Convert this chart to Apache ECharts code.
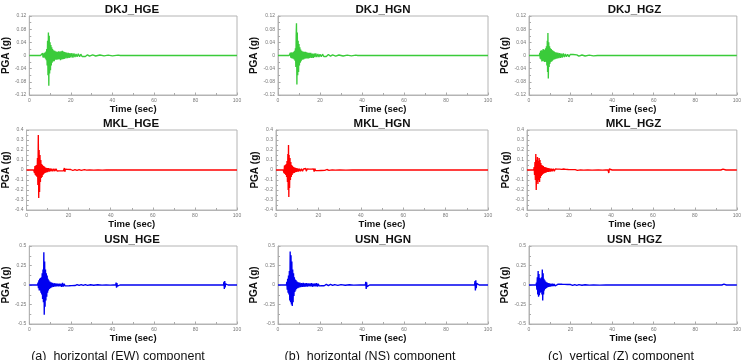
<!DOCTYPE html>
<html><head><meta charset="utf-8">
<script src="https://cdn.jsdelivr.net/npm/echarts@6/dist/echarts.min.js"></script>
<style>html,body{margin:0;padding:0;background:#fff}#c{width:744px;height:360px}</style>
</head><body><div id="c"></div>
<script>
// ---- data ----
const titles = [
  ['DKJ_HGE','DKJ_HGN','DKJ_HGZ'],
  ['MKL_HGE','MKL_HGN','MKL_HGZ'],
  ['USN_HGE','USN_HGN','USN_HGZ']
];
const captions = ['(a)  horizontal (EW) component','(b)  horizontal (NS) component','(c)  vertical (Z) component'];
const rowColors = ['#3acb3a','#ff0000','#0000f0'];
const rowMax = [0.12, 0.4, 0.5];
const rowStep = [0.04, 0.1, 0.25];
const xTicks = [0, 20, 40, 60, 80, 100];

const dkjE = [[0,0],[5.4,0],[5.6,0.004],[5.8,-0.005],[6.0,0.006],[6.2,-0.004],[6.4,0.007],[6.6,-0.006],[6.8,0.005],[7.0,-0.007],[7.2,0.008],[7.4,-0.006],[7.6,0.009],[7.8,-0.01],[8.0,0.012],[8.2,-0.014],[8.4,0.02],[8.6,-0.03],[8.8,0.045],[9.0,-0.06],[9.2,0.07],[9.4,-0.092],[9.6,0.06],[9.8,-0.055],[10.0,0.04],[10.2,-0.045],[10.4,0.032],[10.6,-0.03],[10.8,0.025],[11.0,-0.022],[11.2,0.02],[11.4,-0.018],[11.7,0.016],[12.0,-0.017],[12.3,0.014],[12.6,-0.013],[12.9,0.012],[13.2,-0.013],[13.5,0.011],[13.8,-0.012],[14.1,0.013],[14.4,-0.011],[14.7,0.012],[15.0,-0.014],[15.3,0.013],[15.6,-0.012],[15.9,0.014],[16.2,-0.011],[16.5,0.012],[16.8,-0.01],[17.2,0.01],[17.6,-0.009],[18.0,0.009],[18.4,-0.008],[18.8,0.008],[19.2,-0.007],[19.6,0.007],[20.0,-0.006],[20.5,0.007],[21.0,-0.006],[21.5,0.006],[22.0,-0.005],[22.5,0.005],[23.0,-0.004],[23.6,0.005],[24.2,-0.004],[24.8,0.004],[25.4,-0.003],[26.0,0.003],[27.0,-0.003],[28.0,0.002],[29.0,-0.002],[30.5,0.002],[32,-0.0015],[34,0.0015],[36,-0.001],[38,0.001],[40,-0.001],[42.8,0.001],[43.2,-0.002],[43.5,0.002],[43.8,0],[45,0],[95.5,0],[96.6,0],[96.8,0.005],[97.0,-0.006],[97.2,0.004],[97.4,0],[98.5,0],[100,0]];
const dkjN = [[0,0],[5.3,0],[5.5,0.005],[5.7,-0.006],[5.9,0.008],[6.1,-0.007],[6.3,0.009],[6.5,-0.008],[6.7,0.01],[6.9,-0.009],[7.1,0.008],[7.3,-0.01],[7.5,0.011],[7.7,-0.012],[7.9,0.014],[8.1,-0.016],[8.3,0.022],[8.5,-0.035],[8.65,0.06],[8.8,0.098],[9.0,-0.088],[9.2,0.07],[9.4,-0.06],[9.6,0.045],[9.8,-0.05],[10.0,0.035],[10.2,-0.03],[10.4,0.025],[10.6,-0.022],[10.8,0.018],[11.0,-0.017],[11.3,0.014],[11.6,-0.013],[11.9,0.012],[12.2,-0.012],[12.5,0.011],[12.8,-0.01],[13.1,0.011],[13.4,-0.009],[13.7,0.01],[14.0,-0.009],[14.3,0.008],[14.6,-0.009],[14.9,0.008],[15.2,-0.007],[15.6,0.008],[16.0,-0.007],[16.4,0.006],[16.8,-0.007],[17.2,0.006],[17.6,-0.005],[18.0,0.006],[18.5,-0.005],[19.0,0.005],[19.5,-0.005],[20.0,0.004],[20.6,-0.004],[21.2,0.004],[21.8,-0.003],[22.4,0.003],[23.0,-0.003],[24,0.003],[25,-0.002],[26,0.002],[27.5,-0.002],[29,0.0015],[31,-0.0015],[33,0.001],[35,-0.001],[37,0.001],[38,0],[42.8,0],[43.8,0],[44,0.002],[44.3,-0.002],[44.6,0],[45.6,0],[95.3,0],[96.3,0],[96.5,0.003],[96.7,-0.003],[96.9,0],[98,0],[100,0]];
const dkjZ = [[0,0],[5.0,0],[5.2,0.008],[5.4,-0.01],[5.6,0.014],[5.8,-0.012],[6.0,0.016],[6.2,-0.018],[6.4,0.015],[6.6,-0.017],[6.8,0.02],[7.0,-0.016],[7.2,0.018],[7.4,-0.02],[7.6,0.017],[7.8,-0.018],[8.0,0.022],[8.2,-0.02],[8.4,0.028],[8.6,-0.03],[8.8,0.045],[8.95,-0.05],[9.1,0.068],[9.3,-0.07],[9.5,0.04],[9.7,-0.035],[9.9,0.028],[10.1,-0.025],[10.3,0.022],[10.5,-0.02],[10.7,0.02],[10.9,-0.018],[11.1,0.017],[11.3,-0.016],[11.6,0.014],[11.9,-0.013],[12.2,0.012],[12.5,-0.011],[12.8,0.01],[13.1,-0.01],[13.4,0.009],[13.7,-0.009],[14.0,0.008],[14.4,-0.008],[14.8,0.007],[15.2,-0.007],[15.6,0.006],[16.0,-0.006],[16.5,0.006],[17.0,-0.005],[17.5,0.005],[18.0,-0.004],[18.6,0.004],[19.2,-0.004],[19.8,0.003],[20.5,-0.003],[21.2,0.003],[22,-0.002],[23,0.002],[24,-0.002],[25.5,0.0015],[27,-0.0015],[29,0.001],[31,-0.001],[33,0],[43.5,0],[43.8,0.001],[44.1,-0.001],[44.4,0],[45.4,0],[93.6,0],[94.6,0],[94.8,0.002],[95,-0.002],[95.2,0],[97.5,0],[97.7,0.002],[97.9,-0.002],[98.1,0],[99,0],[100,0]];

const mklE = [[0,0],[3.4,0],[3.6,0.02],[3.8,-0.03],[4.0,0.04],[4.2,-0.05],[4.4,0.045],[4.6,-0.06],[4.8,0.05],[5.0,-0.07],[5.2,0.12],[5.4,-0.15],[5.6,0.35],[5.8,-0.28],[6.0,0.2],[6.2,-0.22],[6.4,0.15],[6.6,-0.12],[6.8,0.1],[7.0,-0.08],[7.2,0.06],[7.4,-0.07],[7.6,0.05],[7.8,-0.05],[8.0,0.04],[8.2,-0.04],[8.5,0.035],[8.8,-0.03],[9.1,0.025],[9.4,-0.025],[9.7,0.02],[10.0,-0.02],[10.4,0.018],[10.8,-0.016],[11.2,0.015],[11.6,-0.014],[12.0,0.013],[12.5,-0.012],[13.0,0.012],[13.5,-0.011],[14.0,0.013],[14.5,-0.01],[15.0,0.01],[15.5,-0.009],[16.0,0.009],[16.5,-0.008],[17.0,0.008],[17.5,-0.009],[18.0,0.02],[18.2,-0.018],[18.5,0.008],[19.0,-0.007],[19.6,0.006],[20.2,-0.006],[21,0.005],[22,-0.005],[23,0.004],[24,-0.004],[25,0.003],[26,-0.003],[27.5,0.003],[28,-0.01],[28.2,0.01],[28.5,-0.002],[30,0.002],[32,-0.002],[34,0.0015],[36,-0.0015],[38,0.001],[39.6,0],[40.6,0],[40.8,0.01],[41.0,-0.012],[41.2,0.008],[41.4,0],[42.4,0],[92,0],[93.0,0],[93.2,0.012],[93.4,-0.015],[93.6,0.01],[93.8,-0.006],[94.0,0],[95,0],[100,0]];
const mklN = [[0,0],[3.4,0],[3.6,0.02],[3.8,-0.03],[4.0,0.045],[4.2,-0.04],[4.4,0.05],[4.6,-0.05],[4.8,0.06],[5.0,-0.07],[5.2,0.09],[5.4,-0.12],[5.6,0.16],[5.75,-0.2],[5.9,0.25],[6.05,-0.27],[6.2,0.15],[6.4,-0.18],[6.6,0.12],[6.8,-0.1],[7.0,0.08],[7.2,-0.07],[7.4,0.05],[7.6,-0.05],[7.8,0.04],[8.0,-0.035],[8.3,0.03],[8.6,-0.03],[8.9,0.025],[9.2,-0.022],[9.5,0.02],[9.8,-0.018],[10.2,0.016],[10.6,-0.015],[11.0,0.013],[11.5,-0.012],[12.0,0.012],[12.5,-0.011],[13.0,0.01],[13.5,-0.01],[14.0,0.015],[14.3,-0.012],[14.7,0.01],[15.2,-0.009],[15.7,0.009],[16.2,-0.008],[16.7,0.008],[17.2,-0.008],[17.7,0.012],[18.0,-0.015],[18.3,0.014],[18.7,-0.007],[19.2,0.006],[19.8,-0.006],[20.5,0.005],[21.2,-0.005],[22,0.004],[23,-0.004],[24,0.005],[25,-0.003],[26.5,0.002],[28,-0.002],[30,0.002],[33,-0.0015],[36,0.001],[37.8,0],[38.8,0],[39.0,0.008],[39.2,-0.008],[39.4,0],[40.8,0],[41.0,0.01],[41.2,-0.01],[41.4,0],[42.4,0],[44,0],[45.0,0],[45.2,0.005],[45.4,-0.005],[45.6,0],[46.6,0],[92,0],[93.0,0],[93.2,0.012],[93.4,-0.014],[93.6,0.01],[93.8,-0.006],[94.0,0],[95,0],[100,0]];
const mklZ = [[0,0],[3.2,0],[3.4,0.03],[3.6,-0.05],[3.8,0.08],[4.0,-0.1],[4.2,0.16],[4.4,-0.2],[4.6,0.1],[4.8,-0.12],[5.0,0.13],[5.2,-0.14],[5.4,0.09],[5.6,-0.1],[5.8,0.12],[6.0,-0.12],[6.2,0.1],[6.4,-0.08],[6.6,0.07],[6.8,-0.06],[7.0,0.05],[7.2,-0.05],[7.4,0.045],[7.6,-0.04],[7.8,0.04],[8.0,-0.035],[8.3,0.03],[8.6,-0.03],[8.9,0.028],[9.2,-0.025],[9.5,0.022],[9.8,-0.02],[10.1,0.02],[10.4,-0.018],[10.8,0.016],[11.2,-0.015],[11.6,0.014],[12.0,-0.013],[12.5,0.012],[13.0,-0.011],[13.5,0.01],[14.0,-0.01],[14.5,0.009],[15.0,-0.009],[15.5,0.008],[16.0,-0.008],[16.5,0.007],[17.0,-0.007],[17.5,0.01],[18.0,-0.009],[18.5,0.006],[19.0,-0.005],[19.7,0.005],[20.4,-0.004],[21.2,0.004],[22,-0.003],[23,0.003],[24,-0.003],[25.5,0.002],[27,-0.002],[29,0.0015],[31,-0.0015],[34,0.001],[36,-0.001],[37.6,0],[38.6,0],[38.8,0.015],[39.0,-0.03],[39.2,0.01],[39.4,-0.005],[39.6,0],[40.6,0],[91.4,0],[92.4,0],[92.6,0.008],[92.8,-0.01],[93.0,0.01],[93.2,-0.009],[93.4,0.008],[93.6,-0.006],[93.8,0],[94.8,0],[100,0]];

const usnE = [[0,0],[4.0,0],[4.2,0.03],[4.4,-0.04],[4.6,0.06],[4.8,-0.07],[5.0,0.08],[5.2,-0.07],[5.4,0.09],[5.6,-0.1],[5.8,0.1],[6.0,-0.12],[6.2,0.15],[6.4,-0.18],[6.6,0.2],[6.8,-0.22],[7.0,0.42],[7.2,-0.38],[7.4,0.3],[7.6,-0.28],[7.8,0.2],[8.0,-0.2],[8.2,0.15],[8.4,-0.15],[8.6,0.12],[8.8,-0.1],[9.0,0.08],[9.2,-0.07],[9.4,0.06],[9.6,-0.05],[9.9,0.045],[10.2,-0.04],[10.5,0.035],[10.8,-0.03],[11.2,0.028],[11.6,-0.025],[12.0,0.022],[12.4,-0.02],[12.8,0.02],[13.2,-0.018],[13.6,0.018],[14.0,-0.016],[14.4,0.016],[14.8,-0.015],[15.2,0.015],[15.6,-0.025],[16.0,0.028],[16.4,-0.02],[16.8,0.015],[17.2,-0.012],[17.7,0.012],[18.2,-0.011],[18.7,0.01],[19.2,-0.01],[19.8,0.009],[20.4,-0.008],[21,0.008],[22,-0.007],[23,0.006],[24,-0.006],[25,0.005],[26,-0.005],[27,0.004],[28,-0.004],[29.5,0.003],[31,-0.003],[33,0.003],[35,-0.002],[37,0.002],[39,-0.002],[40.6,0],[41.6,0],[41.8,0.03],[42.0,-0.035],[42.2,0.025],[42.4,-0.015],[42.6,0],[43.6,0],[92.5,0],[93.5,0],[93.7,0.04],[93.9,-0.05],[94.1,0.05],[94.3,-0.03],[94.5,0.015],[94.7,0],[95.7,0],[100,0]];
const usnN = [[0,0],[4.0,0],[4.2,0.04],[4.4,-0.06],[4.6,0.08],[4.8,-0.1],[5.0,0.12],[5.2,-0.12],[5.4,0.18],[5.6,-0.2],[5.8,0.43],[6.0,-0.22],[6.2,0.38],[6.4,-0.25],[6.6,0.3],[6.8,-0.27],[7.0,0.2],[7.2,-0.22],[7.4,0.15],[7.6,-0.14],[7.8,0.1],[8.0,-0.09],[8.2,0.07],[8.4,-0.07],[8.6,0.06],[8.8,-0.05],[9.1,0.045],[9.4,-0.04],[9.7,0.035],[10.0,-0.035],[10.4,0.03],[10.8,-0.028],[11.2,0.025],[11.6,-0.025],[12.0,0.028],[12.4,-0.024],[12.8,0.022],[13.2,-0.02],[13.6,0.022],[14.0,-0.02],[14.4,0.02],[14.8,-0.018],[15.2,0.02],[15.6,-0.018],[16.0,0.025],[16.4,-0.022],[16.8,0.018],[17.2,-0.016],[17.6,0.02],[18.0,-0.018],[18.4,0.022],[18.8,-0.02],[19.2,0.015],[19.6,-0.012],[20.2,0.012],[20.8,-0.01],[21.4,0.01],[22,-0.009],[23,0.008],[24,-0.008],[25,0.007],[26,-0.006],[27,0.005],[28.5,-0.004],[30,0.004],[32,-0.003],[34,0.003],[36,-0.002],[39,0.002],[40.6,0],[41.6,0],[41.8,0.04],[42.0,-0.05],[42.2,0.035],[42.4,-0.02],[42.6,0],[43.6,0],[92.6,0],[93.6,0],[93.8,0.05],[94.0,-0.07],[94.2,0.06],[94.4,-0.04],[94.6,0.02],[94.8,0],[95.8,0],[100,0]];
const usnZ = [[0,0],[3.4,0],[3.6,0.03],[3.8,-0.06],[4.0,0.1],[4.2,-0.12],[4.4,0.18],[4.6,-0.15],[4.8,0.14],[5.0,-0.13],[5.2,0.09],[5.4,-0.1],[5.6,0.08],[5.8,-0.09],[6.0,0.1],[6.2,-0.12],[6.4,0.2],[6.6,-0.2],[6.8,0.15],[7.0,-0.12],[7.2,0.08],[7.4,-0.07],[7.6,0.06],[7.8,-0.05],[8.0,0.045],[8.3,-0.04],[8.6,0.035],[8.9,-0.03],[9.2,0.025],[9.5,-0.025],[9.8,0.02],[10.2,-0.02],[10.6,0.018],[11.0,-0.016],[11.4,0.015],[11.8,-0.014],[12.2,0.013],[12.6,-0.013],[13.0,0.012],[13.5,-0.011],[14.0,0.011],[14.5,-0.01],[15.0,0.01],[15.5,-0.009],[16.0,0.009],[16.6,-0.008],[17.2,0.008],[17.8,-0.007],[18.4,0.007],[19,-0.006],[20,0.006],[21,-0.005],[22,0.005],[23,-0.004],[24,0.004],[25.5,-0.003],[27,0.003],[29,-0.002],[31,0.002],[34,-0.0015],[37,0.001],[40.6,0],[41.6,0],[41.8,0.012],[42.0,-0.015],[42.2,0.01],[42.4,0],[43.4,0],[91.8,0],[92.8,0],[93.0,0.01],[93.2,-0.015],[93.4,0.012],[93.6,-0.012],[93.8,0.01],[94.0,0],[95,0],[100,0]];

const traces = [[dkjE, dkjN, dkjZ],[mklE, mklN, mklZ],[usnE, usnN, usnZ]];

// ---- layout ----
const colLeft = [27, 278, 529];
const colRight = [237, 488, 740];
const rowTop = [16, 130, 246];
const rowBottom = [95, 210, 324];
const rowLeftShift = [0, -2, 0];
const captionX = [118, 370, 621];
const FONT = 'Liberation Sans, Arial, sans-serif';

const grid = [], xAxis = [], yAxis = [], series = [], title = [];
let k = 0;
for (let r = 0; r < 3; r++) {
  for (let c = 0; c < 3; c++) {
    const left = colLeft[c] + rowLeftShift[r];
    grid.push({left: left, top: rowTop[r], width: colRight[c] - left, height: rowBottom[r] - rowTop[r],
      show: true, borderColor: '#b4b4b4', borderWidth: 1, backgroundColor: '#fff', containLabel: false});
    xAxis.push({type: 'value', gridIndex: k, min: xTicks[0], max: xTicks[xTicks.length-1], interval: xTicks[1]-xTicks[0],
      name: 'Time (sec)', nameLocation: 'middle', nameGap: 9,
      nameTextStyle: {fontFamily: FONT, fontWeight: 'bold', fontSize: 9.5, color: '#111'},
      axisLine: {show: true, onZero: false, lineStyle: {color: '#b4b4b4', width: 1}},
      axisTick: {show: true, inside: true, length: 2.5, lineStyle: {color: '#aaa'}},
      minorTick: {show: true, splitNumber: 2, length: 2, lineStyle: {color: '#aaa'}},
      axisLabel: {fontFamily: FONT, fontSize: 5, color: '#777', margin: 3},
      splitLine: {show: false}});
    yAxis.push({type: 'value', gridIndex: k, min: -rowMax[r], max: rowMax[r], interval: rowStep[r],
      name: 'PGA (g)', nameLocation: 'middle', nameGap: 13,
      nameTextStyle: {fontFamily: FONT, fontWeight: 'bold', fontSize: 10, color: '#111'},
      axisLine: {show: true, onZero: false, lineStyle: {color: '#b4b4b4', width: 1}},
      axisTick: {show: true, inside: true, length: 2.5, lineStyle: {color: '#aaa'}},
      minorTick: {show: true, splitNumber: 2, length: 2, lineStyle: {color: '#aaa'}},
      axisLabel: {fontFamily: FONT, fontSize: 5, color: '#777', margin: 3},
      splitLine: {show: false}});
    series.push({type: 'line', xAxisIndex: k, yAxisIndex: k, data: traces[r][c], showSymbol: false, symbol: 'none',
      smooth: false, lineStyle: {color: rowColors[r], width: 1.35, join: 'bevel', cap: 'butt'}, silent: true, animation: false});
    title.push({text: titles[r][c], left: (left + colRight[c]) / 2, top: rowTop[r] - 12, textAlign: 'center',
      textStyle: {fontFamily: FONT, fontWeight: 'bold', fontSize: 11.5, color: '#111'}, padding: 0});
    k++;
  }
}

const chart = echarts.init(document.getElementById('c'), null, {renderer: 'canvas'});
chart.setOption({animation: false, title, grid, xAxis, yAxis, series,
  graphic: captions.map((t, i) => ({type: 'text', x: captionX[i], y: 350,
    style: {text: t, font: '12.5px ' + FONT, fill: '#111', align: 'center', verticalAlign: 'top'}}))});
</script></body></html>
